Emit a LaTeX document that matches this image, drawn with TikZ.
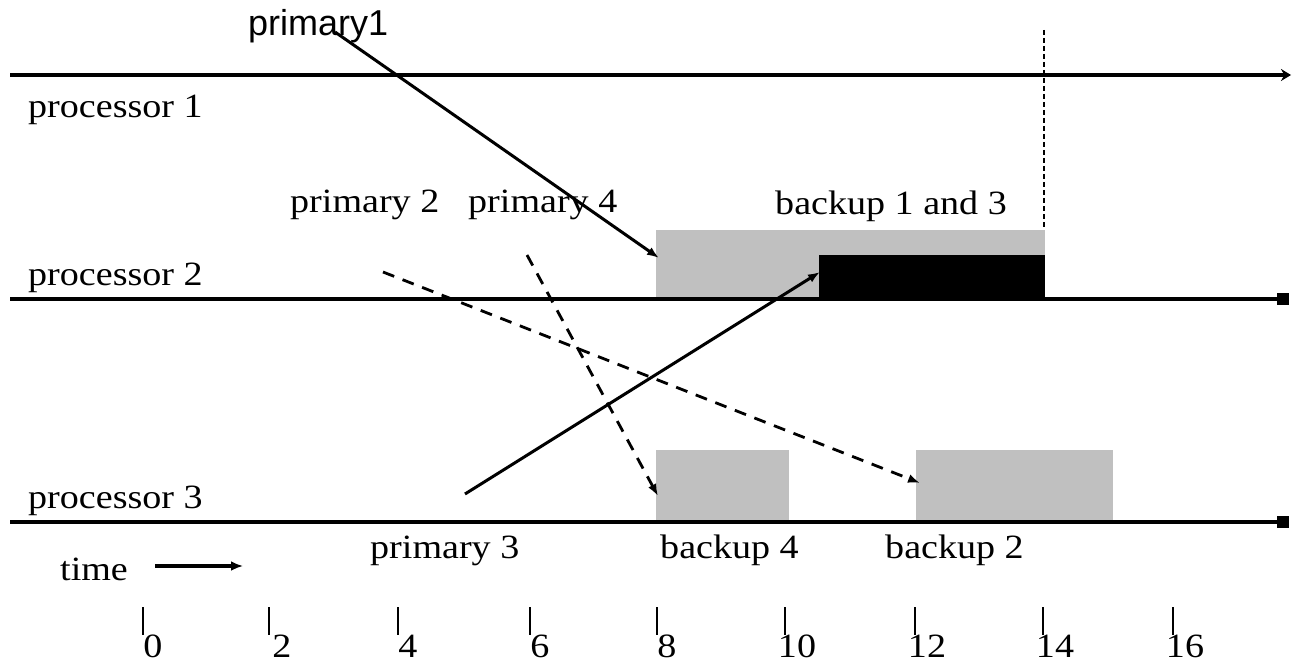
\documentclass[tikz,border=0pt]{standalone}
\usepackage{fontspec}
\setmainfont{Liberation Serif}
\newfontfamily\arialf{Liberation Sans}
\usetikzlibrary{arrows.meta}
\definecolor{boxgray}{RGB}{192,192,192}
\newcommand\lblfont{\fontsize{34}{40}\selectfont}
\newcommand\sxw[1]{\scalebox{1.12}[1]{#1}}
\begin{document}
\begin{tikzpicture}[x=1pt,y=-1pt,
  proc/.style={line width=4pt},
  lbl/.style={anchor=base west, inner sep=0pt, font=\lblfont},
  num/.style={anchor=base, inner sep=0pt, font=\lblfont},
  tick/.style={line width=2.8pt},
  msg/.style={line width=3pt, -{Latex[length=12pt,width=9pt]}},
  dmsg/.style={line width=2.8pt, dash pattern=on 12pt off 9pt, -{Latex[length=12pt,width=9pt]}},
  gbox/.style={fill=boxgray},
  bbox/.style={fill=black}]
\useasboundingbox (0,0) rectangle (1292,663);
% boxes
\fill[gbox] (656,230) rectangle (1045,299);
\fill[bbox] (819,255) rectangle (1045,299);
\fill[gbox] (656,450) rectangle (789,522);
\fill[gbox] (916,450) rectangle (1113,522);
% processor lines
\coordinate (p1s) at (10,75);
\coordinate (p1e) at (1291,75);
\coordinate (p2s) at (10,299);
\coordinate (p2e) at (1277,299);
\coordinate (p3s) at (10,522);
\coordinate (p3e) at (1277,522);
\draw[proc, -{Stealth[length=10pt,width=12pt]}] (p1s) -- (p1e);
\draw[proc] (p2s) -- (p2e);
\draw[proc] (p3s) -- (p3e);
\fill (1277,293) rectangle (1289,305);
\fill (1277,516) rectangle (1289,528);
% deadline
\coordinate (dl1) at (1044,30);
\coordinate (dl2) at (1044,228);
\draw[line width=1.8pt, dash pattern=on 5pt off 3pt] (dl1) -- (dl2);
% labels
\node[lbl] (l1) at (28,118) {\sxw{processor 1}};
\node[lbl] (l2) at (28,285) {\sxw{processor 2}};
\node[lbl] (l3) at (28,508) {\sxw{processor 3}};
\node[lbl] (pr2) at (290,212) {\sxw{primary 2}};
\node[lbl] (pr4) at (468,212) {\sxw{primary 4}};
\node[lbl] (b13) at (775,214) {\sxw{backup 1 and 3}};
\node[lbl] (pr3) at (370,558) {\sxw{primary 3}};
\node[lbl] (b4) at (660,558) {\sxw{backup 4}};
\node[lbl] (b2) at (885,558) {\sxw{backup 2}};
\node[anchor=base west, inner sep=0pt, font=\arialf\fontsize{36}{40}\selectfont] (pr1) at (248,36) {primary1};
% messages
\coordinate (a1s) at (335,32);
\coordinate (a1e) at (659,258);
\draw[msg] (a1s) -- (a1e);
\coordinate (a3s) at (465,494);
\coordinate (a3e) at (820,272);
\draw[msg] (a3s) -- (a3e);
\coordinate (a2s) at (383,272);
\coordinate (a2e) at (920,483);
\draw[dmsg] (a2s) -- (a2e);
\coordinate (a4s) at (527,255);
\coordinate (a4e) at (658,496);
\draw[dmsg] (a4s) -- (a4e);
% time axis
\node[lbl] (tm) at (60,580) {\sxw{time}};
\coordinate (ts) at (155,566);
\coordinate (te) at (243,566);
\draw[line width=3.2pt, -{Latex[length=12pt,width=10pt]}] (ts) -- (te);
\foreach \x/\n/\c in {143/0/153, 269/2/282, 398/4/408, 530/6/540, 657/8/667, 785/10/797, 915/12/927, 1043/14/1055, 1173/16/1185}{
  \coordinate (tk\n a) at (\x,607);
  \coordinate (tk\n b) at (\x,635);
  \draw[tick] (tk\n a) -- (tk\n b);
  \node[num] (n\n) at (\c,657) {\sxw{\n}};
}
\end{tikzpicture}
\end{document}
